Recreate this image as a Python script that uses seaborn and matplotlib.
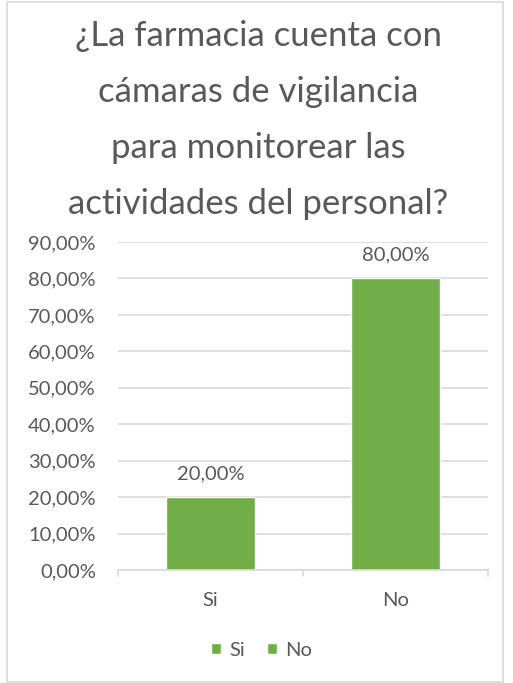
import matplotlib
matplotlib.use("Agg")
import matplotlib.pyplot as plt
import seaborn as sns
import pandas as pd
from matplotlib.patches import Rectangle

# --- Datos ---
categorias = ["Si", "No"]
porcentajes = [20.0, 80.0]
ticks_y = [0, 10, 20, 30, 40, 50, 60, 70, 80, 90]
titulo = "¿La farmacia cuenta con\ncámaras de vigilancia\npara monitorear las\nactividades del personal?"

verde = "#70AD47"
gris_texto = "#595959"
gris_linea = "#D9D9D9"

sns.set_theme(style="white")
plt.rcParams['font.family'] = ['Lato', 'DejaVu Sans']

df = pd.DataFrame({"Respuesta": categorias, "Porcentaje": porcentajes})

fig = plt.figure(figsize=(5.13, 6.83), dpi=100)
ax = fig.add_axes([0.230, 0.1654, 0.721, 0.4803])

sns.barplot(data=df, x="Respuesta", y="Porcentaje", hue="Respuesta",
            palette=[verde, verde], width=0.48, saturation=1, ax=ax, legend=True)

tam = 14.5
ax.set_ylim(0, 90)
ax.set_yticks(ticks_y)
ax.set_yticklabels([f"{t:.2f}".replace(".", ",") + "%" for t in ticks_y],
                   fontsize=tam, color=gris_texto)
ax.tick_params(axis='x', labelsize=tam, colors=gris_texto, length=0, pad=16)
ax.tick_params(axis='y', length=0, pad=16)
ax.set_xlabel("")
ax.set_ylabel("")
ax.set_xlim(-0.5, 1.5)

ax.yaxis.grid(True, color=gris_linea, linewidth=1.2)
ax.set_axisbelow(True)
for lado in ["top", "right", "left"]:
    ax.spines[lado].set_visible(False)
ax.spines["bottom"].set_color(gris_linea)
ax.spines["bottom"].set_linewidth(1.2)

# marcas de categoria en el eje x
for xt in [-0.5, 0.5, 1.5]:
    ax.plot([xt, xt], [0, -1.6], color=gris_linea, lw=1.2, clip_on=False)

# etiquetas de datos
for i, v in enumerate(porcentajes):
    ax.text(i, v + 4, f"{v:.2f}".replace(".", ",") + "%", ha="center", va="bottom",
            fontsize=tam, color=gris_texto)

fig.text(0.503, 0.971, titulo, ha="center", va="top", fontsize=25,
         color=gris_texto, linespacing=1.92)

handles, labels = ax.get_legend_handles_labels()
ax.legend(handles, labels, loc="center", bbox_to_anchor=(0.51, 0.048),
          bbox_transform=fig.transFigure, ncol=2, frameon=False,
          handlelength=0.5, handleheight=0.5, handletextpad=0.4,
          columnspacing=1.1, prop={'size': tam}, labelcolor=gris_texto)

fig.patches.append(Rectangle((0.013, 0.002), 0.968, 0.995, transform=fig.transFigure,
                             fill=False, edgecolor=gris_linea, linewidth=1.2))

fig.savefig("out.png", dpi=100)
